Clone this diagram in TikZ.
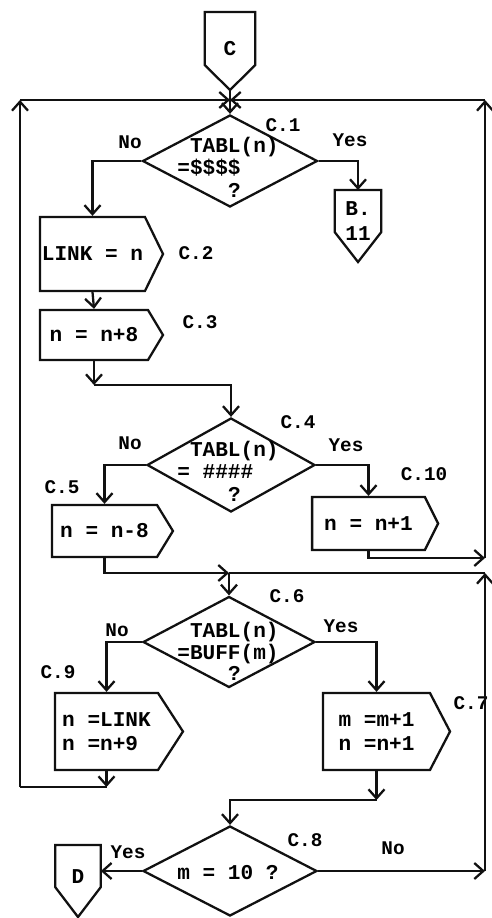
\documentclass[tikz,border=0pt]{standalone}
\usepackage{fontspec}
\setmonofont{Liberation Mono}
\usepackage{tikz}
\usetikzlibrary{arrows.meta,positioning,shapes.geometric,shapes.symbols}
\definecolor{ink}{HTML}{111111}
\newcommand{\boxfont}{\ttfamily\bfseries\fontsize{12}{14}\selectfont}
\newcommand{\tagfont}{\ttfamily\bfseries\fontsize{11}{13}\selectfont}
\tikzset{
  proc/.style={draw=ink, line width=1.3pt, signal, signal to=east,
               font=\boxfont, align=left, inner xsep=0pt, inner ysep=2pt},
  dec/.style={draw=ink, line width=1.3pt, diamond, inner sep=0pt},
  conn/.style={rectangle, font=\boxfont, align=left, inner sep=1pt, anchor=north},
  outline/.style={draw=ink, line width=1.3pt, line join=miter},
  intext/.style={font=\boxfont, align=left, inner sep=0pt},
  tag/.style={font=\tagfont, inner sep=0pt},
  flow/.style={-{Straight Barb[length=1.8mm,width=3.2mm]}, line width=1.3pt, draw=ink},
  wire/.style={line width=1.3pt, draw=ink}
}
% off-page connector outline: node, straight side length, pointer depth
\newcommand{\offpage}[3]{%
  \draw[outline] (#1.north west) -- ([shift={(0,#2)}]#1.north west)
    -- ([shift={(0,#2+#3)}]#1.north) coordinate (#1-tip)
    -- ([shift={(0,#2)}]#1.north east) -- (#1.north east) -- cycle;}

\begin{document}
\begin{tikzpicture}[x=0.02cm, y=-0.02cm]
  \useasboundingbox (0,0) rectangle (491,918);

  % connectors
  \node[conn, minimum width=1.0cm, minimum height=1.46cm] (c0) at (230,12) {C};
  \node[conn, minimum width=0.92cm, minimum height=1.24cm] (b11) at (358,190) {B.\\11};
  \node[conn, minimum width=0.9cm, minimum height=1.24cm] (dd) at (78,845) {D};
  \offpage{c0}{53}{25}
  \offpage{b11}{42}{30}
  \offpage{dd}{42}{30}

  % decisions
  \node[dec, minimum width=3.5cm, minimum height=1.84cm] (c1) at (230,161) {};
  \node[dec, minimum width=3.36cm, minimum height=1.88cm] (c4) at (231,465) {};
  \node[dec, minimum width=3.44cm, minimum height=1.82cm] (c6) at (229,642) {};
  \node[dec, minimum width=3.48cm, minimum height=1.8cm] (c8) at (230,871) {};
  \node[intext] (q1) at (228,167) {\hphantom{=}TABL(n)\\[-1.5pt]=\$\$\$\$\\[-1pt]\hphantom{=\$\$\$}?};
  \node[intext] (q4) at (228,471) {\hphantom{=}TABL(n)\\[-1.5pt]=\hphantom{=}\#\#\#\#\\[-1pt]\hphantom{=TAB}?};
  \node[intext] (q6) at (228,651) {\hphantom{=}TABL(n)\\[-1.5pt]=BUFF(m)\\[-2pt]\hphantom{=TAB}?};
  \node[intext] (q8) at (228,873) {m = 10 ?};

  % processes
  \node[proc, minimum width=2.46cm, minimum height=1.48cm, signal pointer angle=128] (c2) at (92.5,254) {LINK = n};
  \node[proc, minimum width=2.46cm, minimum height=1.0cm, signal pointer angle=118] (c3) at (94,335) {n = n+8};
  \node[proc, minimum width=2.42cm, minimum height=1.04cm, signal pointer angle=117] (c5) at (104.5,531) {n = n-8};
  \node[proc, minimum width=2.52cm, minimum height=1.06cm, signal pointer angle=127] (c10) at (368.5,523.5) {n = n+1};
  \node[proc, minimum width=2.56cm, minimum height=1.54cm, signal pointer angle=114] (c9) at (106.5,731.5) {n =LINK\\n =n+9};
  \node[proc, minimum width=2.54cm, minimum height=1.54cm, signal pointer angle=125] (c7) at (376.5,731.5) {m =m+1\\n =n+1};

  % step tags and branch words
  \node[tag] (l1) at (283,125) {C.1};
  \node[tag] (l2) at (196,253) {C.2};
  \node[tag] (l3) at (200,322) {C.3};
  \node[tag] (l4) at (298,422) {C.4};
  \node[tag] (l5) at (62,487) {C.5};
  \node[tag] (l6) at (287,596) {C.6};
  \node[tag] (l7) at (471,703) {C.7};
  \node[tag] (l8) at (305,840) {C.8};
  \node[tag] (l9) at (58,672) {C.9};
  \node[tag] (l10) at (424,474) {C.10};
  \node[tag] (n1) at (130,142) {No};
  \node[tag] (y1) at (350,140) {Yes};
  \node[tag] (n4) at (130,443) {No};
  \node[tag] (y4) at (346,445) {Yes};
  \node[tag] (n6) at (117,630) {No};
  \node[tag] (y6) at (341,626) {Yes};
  \node[tag] (n8) at (393,848) {No};
  \node[tag] (y8) at (128,852) {Yes};

  % corners of the loops
  \coordinate (j1) at (230,100);
  \coordinate (tl) at (20,100);
  \coordinate (tr) at (485,100);
  \coordinate (bl) at (20,787);
  \coordinate (r10) at (485,558);
  \coordinate (j6) at (229,573);
  \coordinate (mr) at (485,573);
  \coordinate (r8) at (485,871);
  \coordinate (k3) at (0,385);
  \coordinate (k7) at (0,800);

  \draw[flow] (c0-tip) -- (c1.north);
  \draw[flow] (c1.west) -| (c2.north);
  \draw[flow] (c1.east) -| (b11.north);
  \draw[flow] (c2.south) -- (c3.north);
  \draw[flow] (c3.south) -- (c3.south |- k3);
  \draw[flow] (c3.south |- k3) -| (c4.north);
  \draw[flow] (c4.west) -| (c5.north);
  \draw[flow] (c4.east) -| (c10.north);
  \draw[flow] (c10.south) |- (r10);
  \draw[flow] (r10) -- (tr);
  \draw[flow] (tr) -- (j1);
  \draw[flow] (c5.south) |- (j6);
  \draw[wire] (mr) -- (j6);
  \draw[flow] (j6) -- (c6.north);
  \draw[flow] (c6.west) -| (c9.north);
  \draw[flow] (c6.east) -| (c7.north);
  \draw[flow] (c9.south) -- (c9.south |- bl);
  \draw[wire] (c9.south |- bl) -- (bl);
  \draw[flow] (bl) -- (tl);
  \draw[flow] (tl) -- (j1);
  \draw[flow] (c7.south) -- (c7.south |- k7);
  \draw[flow] (c7.south |- k7) -| (c8.north);
  \draw[flow] (c8.west) -- (c8.west -| dd.east);
  \draw[flow] (c8.east) -- (r8);
  \draw[flow] (r8) -- (mr);
\end{tikzpicture}
\end{document}
